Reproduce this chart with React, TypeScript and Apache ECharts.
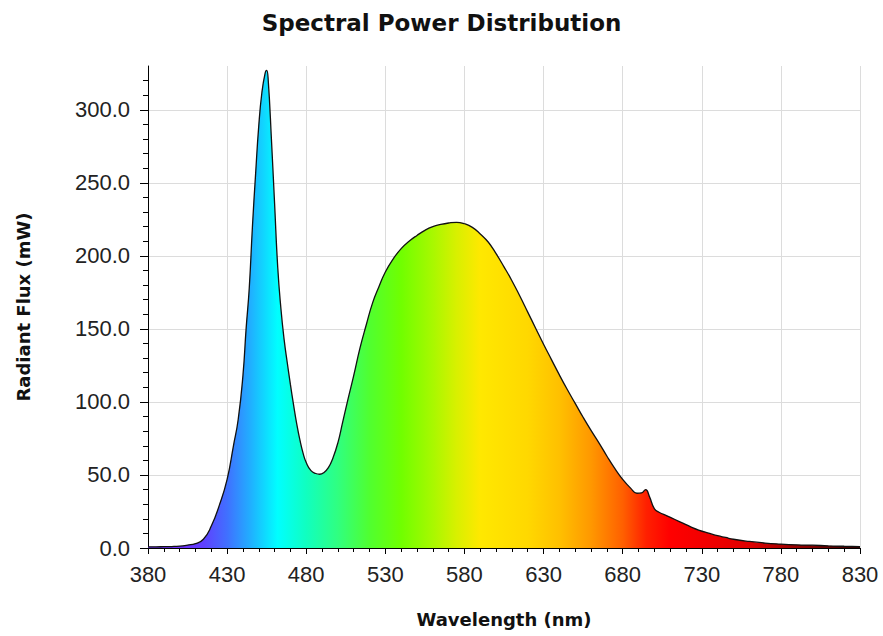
import React, { useEffect, useRef } from "react";
import * as echarts from "echarts";

const wavelengths = [
  380, 385, 390, 395, 400, 405, 410, 415, 420, 425, 430, 434, 437, 440, 442, 444, 446, 448, 450, 452, 454, 455, 456, 458, 460, 462, 464, 466, 468, 470, 472, 474, 476, 478, 480, 483, 486, 488.5, 491, 494, 497, 500, 503, 506, 510, 514, 518, 522, 526, 530, 535, 540, 545, 550, 555, 560, 565, 570, 575, 580, 585, 590, 595, 600, 605, 610, 615, 620, 625, 630, 635, 640, 645, 650, 655, 660, 665, 670, 675, 680, 685, 689, 692, 694.5, 697, 700, 703, 708, 713, 718, 723, 728, 735, 740, 745, 750, 760, 770, 780, 790, 800, 810, 820, 830,
];
const flux = [
  0.8, 0.8, 0.9, 1.0, 1.3, 2.0, 3.0, 6, 15, 29, 47, 70, 88, 118, 150, 178, 220, 256, 289, 312, 325, 327, 320, 280, 236, 192, 164, 143, 127, 112, 98, 85, 74, 65, 58.5, 53, 51, 50.5, 51.5, 55, 62, 72, 86, 100, 118, 137, 153, 168, 179, 189, 198, 205, 210, 214, 217.5, 220, 221.5, 222.5, 223, 222, 219.5, 215, 209.5, 201.5, 192.5, 183, 172.5, 161.5, 150.5, 139.5, 129, 118.5, 108.5, 99, 89.5, 80.5, 72, 63, 54.5, 47, 41, 37.5, 37.8, 40, 35, 27, 24.5, 22, 19.5, 17, 14.5, 12.3, 10, 8.4, 7.2, 6, 4.5, 3.4, 2.7, 2.2, 1.9, 1.5, 1.2, 1.0,
];

const spectrumNm = [400, 415, 430, 445, 462, 480, 500, 520, 540, 560, 575, 590, 620, 640, 660, 680, 695, 710, 760, 800, 830];
const spectrumColors = [
  "#7030ff", "#6040ff", "#4070ff", "#20b0ff", "#00ffff", "#10ffc0", "#30ff80", "#50ff30", "#70ff00", "#a8f800", "#d8f000",
  "#ffe800", "#ffd800", "#ffc000", "#ff9800", "#ff6000", "#ff2000", "#ff0000", "#e00000", "#800000", "#300000",
];

const xTicks = [380, 430, 480, 530, 580, 630, 680, 730, 780, 830];
const yTicks = [0, 50, 100, 150, 200, 250, 300];

export default function App() {
  const ref = useRef<HTMLDivElement>(null);
  useEffect(() => {
    if (!ref.current) return;
    const chart = echarts.init(ref.current, null, { renderer: "svg" });
    const data = wavelengths.map((w, i) => [w, flux[i]]);
    const stops = spectrumNm.map((nm, i) => ({ offset: (nm - 380) / 450, color: spectrumColors[i] }));
    chart.setOption({
      animation: false,
      backgroundColor: "#ffffff",
      title: {
        text: "Spectral Power Distribution",
        left: "center",
        top: 6,
        textStyle: { fontFamily: "DejaVu Sans", fontWeight: "bold", fontSize: 23, color: "#111" },
      },
      grid: { left: 148, right: 23, top: 66, bottom: 88 },
      xAxis: {
        type: "value",
        min: 380,
        max: 830,
        interval: 50,
        name: "Wavelength (nm)",
        nameLocation: "middle",
        nameGap: 62,
        nameTextStyle: { fontFamily: "DejaVu Sans", fontWeight: "bold", fontSize: 18, color: "#111" },
        axisLine: { show: true, lineStyle: { color: "#000", width: 1 } },
        axisTick: { show: true, length: 6, lineStyle: { color: "#000" }, customValues: xTicks },
        minorTick: { show: true, splitNumber: 5, length: 4, lineStyle: { color: "#000" } },
        axisLabel: {
          margin: 15,
          fontFamily: "Liberation Sans",
          fontSize: 22,
          color: "#222",
          customValues: xTicks,
          formatter: (v: number) => String(v),
        },
        splitLine: { show: true, lineStyle: { color: "#dcdcdc", width: 1 } },
      },
      yAxis: {
        type: "value",
        min: 0,
        max: 330,
        interval: 50,
        name: "Radiant Flux (mW)",
        nameLocation: "middle",
        nameGap: 116,
        nameTextStyle: { fontFamily: "DejaVu Sans", fontWeight: "bold", fontSize: 18, color: "#111" },
        axisLine: { show: true, lineStyle: { color: "#000", width: 1 } },
        axisTick: { show: true, length: 8, lineStyle: { color: "#000" }, customValues: yTicks },
        minorTick: { show: true, splitNumber: 5, length: 5, lineStyle: { color: "#000" } },
        axisLabel: {
          margin: 18,
          fontFamily: "Liberation Sans",
          fontSize: 22,
          color: "#222",
          customValues: yTicks,
          formatter: (v: number) => v.toFixed(1),
        },
        splitLine: { show: true, lineStyle: { color: "#dcdcdc", width: 1 } },
      },
      series: [
        {
          type: "line",
          data,
          smooth: 0.5,
          symbol: "none",
          lineStyle: { color: "#111", width: 1.3 },
          areaStyle: { color: new echarts.graphic.LinearGradient(0, 0, 1, 0, stops), opacity: 1 },
        },
      ],
    });
    return () => chart.dispose();
  }, []);
  return <div ref={ref} style={{ position: "fixed", left: 0, top: 0, width: 883, height: 636 }} />;
}
